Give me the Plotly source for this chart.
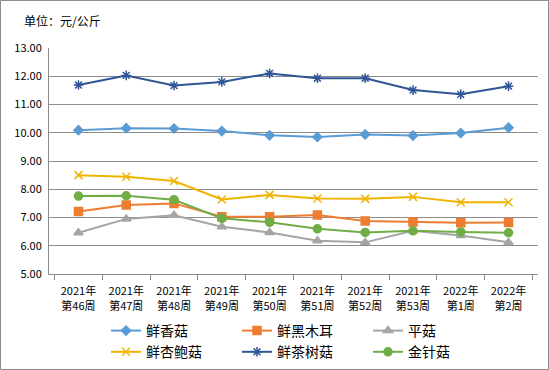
import plotly.graph_objects as go

categories = ["2021年<br>第46周", "2021年<br>第47周", "2021年<br>第48周", "2021年<br>第49周",
              "2021年<br>第50周", "2021年<br>第51周", "2021年<br>第52周", "2021年<br>第53周",
              "2022年<br>第1周", "2022年<br>第2周"]

xianxianggu = [10.09, 10.16, 10.15, 10.06, 9.91, 9.85, 9.94, 9.90, 9.99, 10.18]
xianheimuer = [7.21, 7.44, 7.50, 7.03, 7.03, 7.09, 6.88, 6.84, 6.81, 6.82]
pinggu = [6.46, 6.95, 7.08, 6.67, 6.47, 6.18, 6.12, 6.53, 6.36, 6.12]
xianxingbaogu = [8.50, 8.44, 8.29, 7.64, 7.80, 7.67, 7.66, 7.73, 7.54, 7.54]
xianchashugu = [11.69, 12.03, 11.67, 11.80, 12.10, 11.93, 11.93, 11.51, 11.36, 11.65]
jinzhengu = [7.76, 7.77, 7.63, 6.97, 6.83, 6.60, 6.47, 6.53, 6.49, 6.46]

y_ticks = [5, 6, 7, 8, 9, 10, 11, 12, 13]

FONT = "Noto Sans CJK SC"

series = [
    ("鲜香菇", xianxianggu, "#5B9BD5", "diamond", 7),
    ("鲜黑木耳", xianheimuer, "#ED7D31", "square", 8),
    ("平菇", pinggu, "#A5A5A5", "triangle-up", 8),
    ("鲜杏鲍菇", xianxingbaogu, "#F0B400", "x-thin-open", 8),
    ("鲜茶树菇", xianchashugu, "#2F5597", "asterisk-open", 8),
    ("金针菇", jinzhengu, "#70AD47", "circle", 8),
]

fig = go.Figure()
for name, vals, color, sym, size in series:
    fig.add_trace(go.Scatter(
        x=categories, y=vals, name=name, mode="lines+markers",
        line=dict(color=color, width=2),
        marker=dict(symbol=sym, size=size, color=color,
                    line=dict(color=color, width=1.5)),
    ))

W, H = 549, 370
ml, mr, mt, mb = 49, 11, 48, 96
pw, ph = W - ml - mr, H - mt - mb

fig.update_layout(
    width=W, height=H,
    margin=dict(l=ml, r=mr, t=mt, b=mb, autoexpand=False),
    paper_bgcolor="white", plot_bgcolor="white",
    font=dict(family=FONT, size=11, color="#000000"),
    showlegend=True,
    legend=dict(
        orientation="h",
        x=(106 - ml) / pw, y=-(315 - (H - mb)) / ph, xanchor="left", yanchor="top",
        entrywidth=86, entrywidthmode="pixels",
        font=dict(family=FONT, size=14, color="#000000"),
        tracegroupgap=0, itemwidth=30,
        bgcolor="rgba(0,0,0,0)",
    ),
    annotations=[dict(
        text="单位：元/公斤", xref="paper", yref="paper",
        x=-(ml - 22) / pw, y=1 + (mt - 20) / ph, xanchor="left", yanchor="middle",
        showarrow=False, font=dict(family=FONT, size=12, color="#000000"),
    )],
    shapes=[dict(
        type="rect", xref="paper", yref="paper",
        x0=-(ml - 0.5) / pw, x1=1 + (mr - 0.5) / pw,
        y0=-(mb - 0.5) / ph, y1=1 + (mt - 0.5) / ph,
        line=dict(color="#8C8C8C", width=1), fillcolor="rgba(0,0,0,0)",
    )],
)

fig.update_xaxes(
    type="category", showgrid=False, showline=True, linecolor="#8C8C8C", linewidth=1,
    ticks="outside", tickson="boundaries", ticklen=5, tickcolor="#8C8C8C",
    ticklabelstandoff=7,
    tickfont=dict(family=FONT, size=11, color="#000000"),
    zeroline=False,
)
fig.update_yaxes(
    range=[5, 13], tickvals=y_ticks, ticktext=[f"{v:.2f}" for v in y_ticks],
    showgrid=True, gridcolor="#8C8C8C", gridwidth=1,
    showline=True, linecolor="#8C8C8C", linewidth=1,
    ticks="", ticklabelstandoff=4,
    tickfont=dict(family=FONT, size=11, color="#000000"),
    zeroline=False,
)

fig.write_html("out.html", config={"displayModeBar": False},
               post_script="document.body.style.margin='0';")
